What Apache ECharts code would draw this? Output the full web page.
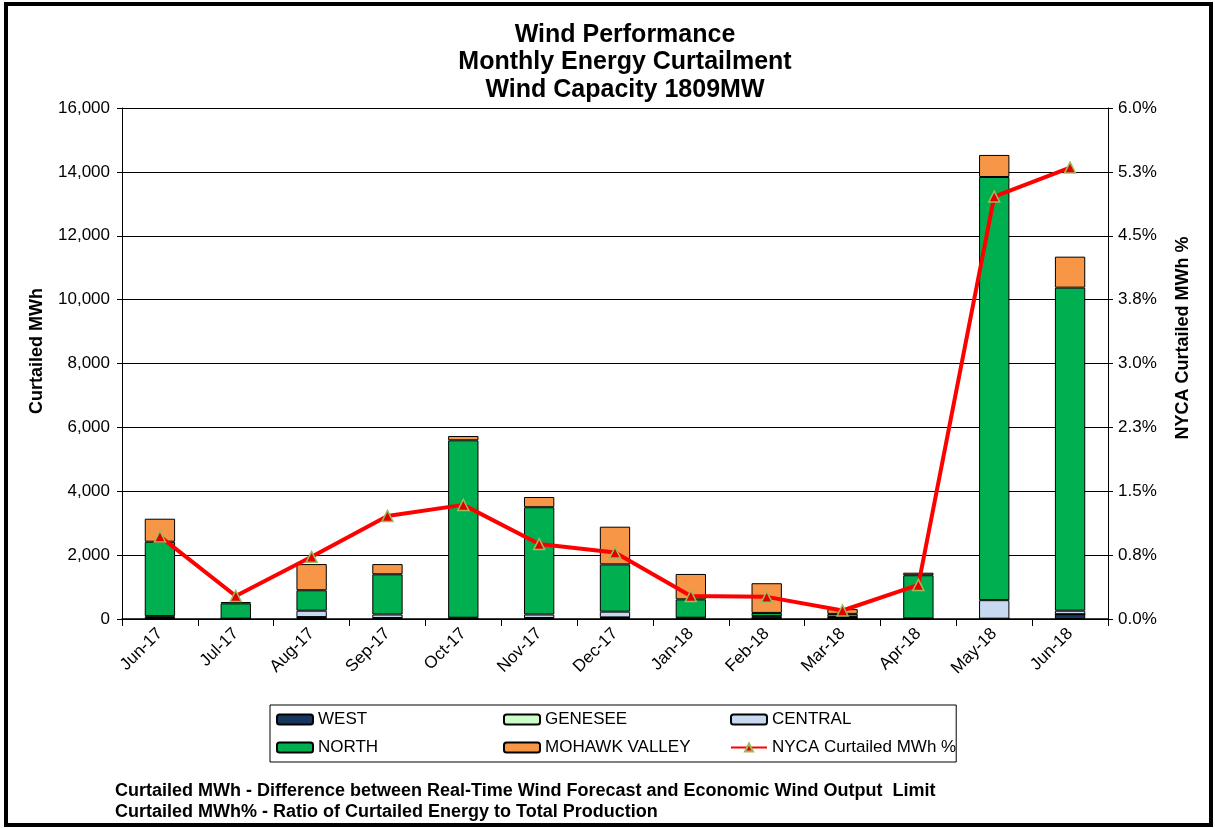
<!DOCTYPE html>
<html>
<head>
<meta charset="utf-8">
<script src="https://cdn.jsdelivr.net/npm/echarts@6/dist/echarts.min.js"></script>
<style>
html,body{margin:0;padding:0;background:#fff;}
#c{width:1215px;height:828px;}
</style>
</head>
<body>
<div id="c"></div>
<script>
var categories = ['Jun-17','Jul-17','Aug-17','Sep-17','Oct-17','Nov-17','Dec-17','Jan-18','Feb-18','Mar-18','Apr-18','May-18','Jun-18'];
var west    = [20, 10, 50, 20, 20, 20, 40, 20, 30, 30, 10, 10, 150];
var genesee = [10, 0, 10, 10, 0, 10, 10, 0, 10, 10, 0, 0, 0];
var central = [60, 0, 200, 110, 20, 110, 180, 20, 50, 20, 10, 580, 110];
var north   = [2330, 480, 640, 1260, 5555, 3360, 1480, 575, 100, 100, 1350, 13250, 10115];
var mohawk  = [720, 40, 820, 320, 135, 320, 1180, 795, 930, 150, 80, 690, 970];
var nycaPct = [0.97, 0.27, 0.73, 1.21, 1.34, 0.88, 0.78, 0.27, 0.26, 0.10, 0.40, 4.96, 5.30];

var FONT = '"Liberation Sans", Arial, sans-serif';
var chart = echarts.init(document.getElementById('c'));

function barSeries(name, data, color) {
  return {
    name: name, type: 'bar', stack: 'total', data: data, barWidth: '40%',
    itemStyle: { color: color, borderColor: '#000', borderWidth: 1 },
    emphasis: { disabled: true }
  };
}

chart.setOption({
  animation: false,
  textStyle: { fontFamily: FONT },
  graphic: [
    { type: 'rect', shape: { x: 6, y: 4, width: 1205, height: 821 }, style: { fill: 'none', stroke: '#000', lineWidth: 4 }, silent: true },
    { type: 'text', x: 625, y: 21, style: { text: 'Wind Performance\nMonthly Energy Curtailment\nWind Capacity 1809MW', font: 'bold 25px ' + FONT, fill: '#000', align: 'center', lineHeight: 27.5 } },
    { type: 'text', x: 115, y: 781, style: { text: 'Curtailed MWh - Difference between Real-Time Wind Forecast and Economic Wind Output  Limit\nCurtailed MWh% - Ratio of Curtailed Energy to Total Production', font: 'bold 18px ' + FONT, fill: '#000', lineHeight: 21 } },
    { type: 'text', x: 37, y: 351, rotation: Math.PI / 2, style: { text: 'Curtailed MWh', font: 'bold 18px ' + FONT, fill: '#000', align: 'center', verticalAlign: 'middle' } },
    { type: 'text', x: 1183, y: 338, rotation: Math.PI / 2, style: { text: 'NYCA Curtailed MWh %', font: 'bold 18px ' + FONT, fill: '#000', align: 'center', verticalAlign: 'middle' } }
  ],
  legend: {
    left: 270, top: 705,
    itemWidth: 36, itemHeight: 10, itemGap: 7,
    padding: [4, 0, 4, 6],
    borderColor: '#000', borderWidth: 1,
    width: 690,
    textStyle: { fontSize: 17, color: '#000', fontFamily: FONT, width: 178, height: 21, lineHeight: 21 },
    data: ['WEST','GENESEE','CENTRAL','NORTH','MOHAWK VALLEY','NYCA Curtailed MWh %']
  },
  grid: { left: 122, right: 107, top: 108, bottom: 209 },
  xAxis: {
    type: 'category', data: categories,
    axisLine: { lineStyle: { color: '#000', width: 1.5 } },
    axisTick: { show: true, length: 7, lineStyle: { color: '#000' } },
    axisLabel: { rotate: 45, fontSize: 17, color: '#000', margin: 12, interval: 0 }
  },
  yAxis: [
    {
      type: 'value', min: 0, max: 16000, interval: 2000,
      axisLine: { show: true, lineStyle: { color: '#000' } },
      axisTick: { show: true, length: 5, lineStyle: { color: '#000' } },
      splitLine: { show: true, lineStyle: { color: '#000', width: 1 } },
      axisLabel: { fontSize: 17, color: '#000', margin: 12, formatter: function (v) { return v.toLocaleString('en-US'); } }
    },
    {
      type: 'value', min: 0, max: 6, interval: 0.75, position: 'right',
      axisLine: { show: true, lineStyle: { color: '#000' } },
      axisTick: { show: true, length: 5, lineStyle: { color: '#000' } },
      splitLine: { show: false },
      axisLabel: { fontSize: 17, color: '#000', margin: 10, formatter: function (v) { return v.toFixed(1) + '%'; } }
    }
  ],
  series: [
    barSeries('WEST', west, '#17375E'),
    barSeries('GENESEE', genesee, '#CCFFCC'),
    barSeries('CENTRAL', central, '#C6D9F1'),
    barSeries('NORTH', north, '#00B050'),
    barSeries('MOHAWK VALLEY', mohawk, '#F79646'),
    {
      name: 'NYCA Curtailed MWh %', type: 'line', yAxisIndex: 1, data: nycaPct,
      symbol: 'triangle', symbolSize: 11,
      lineStyle: { color: '#FF0000', width: 4 },
      itemStyle: { color: '#E00000', borderColor: '#9BBB59', borderWidth: 1.5 },
      emphasis: { disabled: true }, z: 5
    }
  ]
});
</script>
</body>
</html>
